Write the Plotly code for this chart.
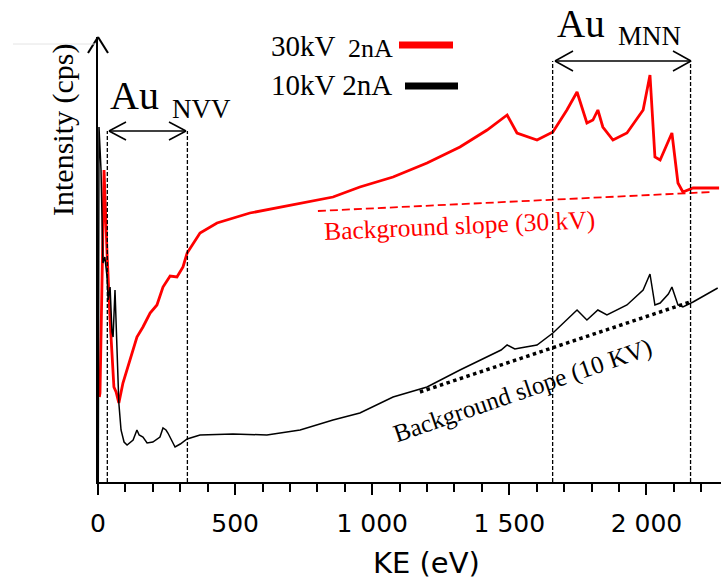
import plotly.graph_objects as go

# ---------------- data ----------------
# 10 kV spectrum (black): kinetic energy (eV) and intensity (arb. units)
ke_10kv = [1, 3.6, 11, 18, 25, 33, 37, 44, 51, 55, 62, 69, 76, 84, 95, 106, 128, 142, 150,
           164, 179, 200, 226, 237, 248, 255, 281, 300, 325, 372, 492, 616, 737, 857, 955,
           1076, 1200, 1320, 1419, 1470, 1492, 1520, 1539, 1601, 1659, 1710, 1747, 1783,
           1823, 1856, 1929, 1988, 2013, 2031, 2050, 2080, 2093, 2115, 2133, 2170, 2243, 2260]
int_10kv = [0, 355, 312, 219, 225, 205, 182, 195, 150, 145, 192, 142, 79, 52, 40, 37, 42, 52, 47,
            45, 39, 40, 45, 54, 52, 49, 35, 38, 43, 47, 48, 47, 52, 62, 69,
            85, 95, 112, 125, 132, 137, 133, 134, 137, 149, 162, 172, 162,
            172, 167, 177, 192, 208, 177, 179, 188, 195, 177, 175, 180, 192, 194]

# 30 kV spectrum (red)
ke_30kv = [5, 7.3, 22, 25.5, 33, 44, 58, 66, 76, 91, 142, 164, 190, 215, 237, 263, 288, 310,
           325, 372, 434, 554, 736, 857, 955, 1076, 1200, 1320, 1419, 1492, 1528, 1601, 1659,
           1710, 1747, 1783, 1805, 1823, 1841, 1878, 1929, 1988, 2013, 2031, 2050, 2093, 2115,
           2133, 2170, 2243, 2265]
int_30kv = [85, 89, 312, 280, 229, 162, 95, 90, 79, 99, 145, 155, 169, 177, 195, 206, 205, 215,
            229, 249, 259, 269, 279, 285, 295, 305, 319, 335, 352, 367, 349, 342, 350,
            372, 390, 359, 362, 372, 355, 342, 349, 372, 407, 325, 322, 349, 299,
            290, 294, 294, 294]

# background slopes
bg30_ke = [802, 2240]
bg30_int = [271, 290]
bg10_ke = [1174, 2159]
bg10_int = [90, 180]

# Auger region boundaries (eV)
nvv_ke = [34, 326]
mnn_ke = [1658, 2161]

tick_vals = [0, 500, 1000, 1500, 2000]
tick_text = ["0", "500", "1 000", "1 500", "2 000"]

# ---------------- layout helpers ----------------
W, H = 721, 581
L, T, B = 98, 37, 99
X_MAX = 2272
Y_MAX = 445
PLOT_W = W - L
PLOT_H = H - T - B


def dx(px):
    return (px - L) / PLOT_W * X_MAX


def dy(py):
    return (H - B - py) / PLOT_H * Y_MAX


def pxp(px):
    return (px - L) / PLOT_W


def pyp(py):
    return (H - B - py) / PLOT_H


SERIF = "Liberation Serif, Times New Roman, serif"
SANS = "DejaVu Sans, Verdana, sans-serif"

fig = go.Figure()
fig.add_trace(go.Scatter(x=ke_30kv, y=int_30kv, mode="lines",
                         line=dict(color="#ff0000", width=2.8), showlegend=False))
fig.add_trace(go.Scatter(x=ke_10kv, y=int_10kv, mode="lines",
                         line=dict(color="black", width=1.5), showlegend=False))
fig.add_trace(go.Scatter(x=bg30_ke, y=bg30_int, mode="lines",
                         line=dict(color="#ff0000", width=1.8, dash="8px,4px"), showlegend=False))
fig.add_trace(go.Scatter(x=bg10_ke, y=bg10_int, mode="lines",
                         line=dict(color="black", width=3.5, dash="dot"), showlegend=False))

shapes = []
# vertical dashed boundaries
for k in nvv_ke:
    shapes.append(dict(type="line", xref="x", yref="y", x0=k, x1=k, y0=0, y1=dy(131),
                       line=dict(color="black", width=1.3, dash="4px,2px")))
for k in mnn_ke:
    shapes.append(dict(type="line", xref="x", yref="y", x0=k, x1=k, y0=0, y1=dy(61),
                       line=dict(color="black", width=1.3, dash="4px,2px")))


def dbl_arrow(xa, xb, y, hl=17, hw=9):
    out = [dict(type="line", xref="x", yref="y", x0=xa, x1=xb, y0=y, y1=y,
                line=dict(color="black", width=1.5))]
    for xt, sgn in ((xa, 1), (xb, -1)):
        for s in (1, -1):
            out.append(dict(type="line", xref="x", yref="y",
                            xsizemode="pixel", xanchor=xt, x0=0, x1=sgn * hl,
                            ysizemode="pixel", yanchor=y, y0=0, y1=s * hw,
                            line=dict(color="black", width=1.5)))
    return out


shapes += dbl_arrow(dx(109), dx(186), dy(131))
shapes += dbl_arrow(dx(555), dx(691), dy(61), hl=18, hw=10)

# y-axis arrow head (paper refs so it is not clipped)
for s in (1, -1):
    shapes.append(dict(type="line", xref="paper", yref="paper",
                       xsizemode="pixel", xanchor=0, x0=0, x1=s * 10,
                       ysizemode="pixel", yanchor=1, y0=0, y1=-16,
                       line=dict(color="black", width=2)))

# legend swatches
shapes.append(dict(type="line", xref="x", yref="y", x0=dx(399), x1=dx(453), y0=dy(45), y1=dy(45),
                   line=dict(color="#ff0000", width=7)))
shapes.append(dict(type="line", xref="x", yref="y", x0=dx(405), x1=dx(458), y0=dy(86), y1=dy(86),
                   line=dict(color="black", width=7)))
# faint line at top left
shapes.append(dict(type="line", xref="paper", yref="paper", x0=pxp(13), x1=pxp(95),
                   y0=pyp(44), y1=pyp(44), line=dict(color="#e4e4e4", width=1)))

ann = []


def text(t, px, py, size, color="black", font=SERIF, xanchor="left", angle=0):
    ann.append(dict(text=t, x=pxp(px), y=pyp(py), xref="paper", yref="paper", showarrow=False,
                    xanchor=xanchor, yanchor="middle", textangle=angle,
                    font=dict(family=font, size=size, color=color)))


text("Au", 108, 95, 40)
text("NVV", 170, 109, 27)
text("Au", 555, 23, 39)
text("MNN", 616, 36, 27)
text("30kV", 269, 46, 29)
text("2nA", 346, 48, 26)
text("10kV 2nA", 269, 85, 29)
text("Background slope (30 kV)", 459, 226, 25.5, color="#ff0000", xanchor="center", angle=-2.5)
text("Background slope (10 KV)", 522, 391, 25, xanchor="center", angle=-19)
text("KE (eV)", 426, 563, 29, font=SANS, xanchor="center")
text("Intensity (cps)", 63, 130, 30, xanchor="center", angle=-90)

fig.update_layout(
    width=W, height=H, autosize=False,
    margin=dict(l=L, r=0, t=T, b=B, pad=0),
    plot_bgcolor="white", paper_bgcolor="white",
    shapes=shapes, annotations=ann,
    xaxis=dict(range=[0, X_MAX], showline=True, linecolor="black", linewidth=1.5,
               ticks="outside", ticklen=11, tickwidth=1.5, tickcolor="black",
               tickmode="array", tickvals=tick_vals, ticktext=tick_text,
               tickfont=dict(family=SANS, size=25, color="black"),
               ticklabelstandoff=7,
               minor=dict(tickmode="linear", tick0=0, dtick=100, ticks="outside",
                          ticklen=8, tickwidth=1.5, tickcolor="black", showgrid=False),
               showgrid=False, zeroline=False),
    yaxis=dict(range=[0, Y_MAX], showline=True, linecolor="black", linewidth=2,
               showticklabels=False, ticks="", showgrid=False, zeroline=False),
)

fig.write_html("out.html", config={"displayModeBar": False},
               post_script="document.body.style.margin='0';")
